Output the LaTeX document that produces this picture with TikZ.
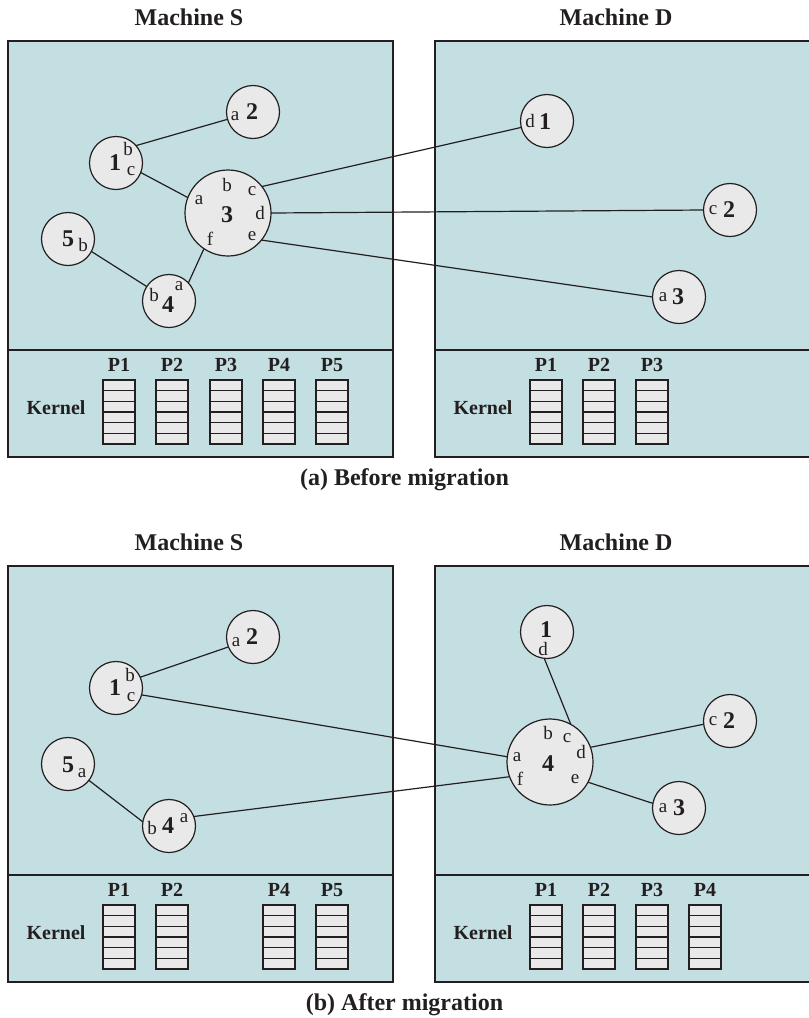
\documentclass[tikz,border=0pt]{standalone}
\usepackage{fontspec}
\setmainfont{Liberation Serif}
\definecolor{boxfill}{HTML}{C4DFE2}
\definecolor{procfill}{HTML}{E9E9E9}
\definecolor{ink}{HTML}{231F20}
\tikzset{
  machine/.style={draw=ink,line width=0.6pt,fill=boxfill},
  divider/.style={draw=ink,line width=1.1pt},
  proc/.style={circle,draw=ink,line width=0.6pt,fill=procfill,minimum size=26.5pt,inner sep=0pt,outer sep=0pt},
  bigproc/.style={proc,minimum size=43pt},
  num/.style={font=\bfseries\fontsize{12}{14}\selectfont,inner sep=0pt,text=ink},
  port/.style={font=\fontsize{9.5}{11}\selectfont,inner sep=0pt,text=ink},
  link/.style={draw=ink,line width=0.6pt},
  title/.style={font=\bfseries\fontsize{12}{14}\selectfont,inner sep=0pt,text=ink},
  plabel/.style={font=\bfseries\fontsize{10}{12}\selectfont,inner sep=0pt,text=ink},
  cell/.style={draw=ink,line width=0.65pt,fill=procfill}
}
\begin{document}
\begin{tikzpicture}[x=0.5pt,y=-0.5pt]
\useasboundingbox (0,0) rectangle (809,1018);
% (a) before migration
\draw[machine] (8,41) rectangle (393,457);
\draw[machine] (435,41) rectangle (815,457);
\draw[divider] (8,350) -- (393,350);
\draw[divider] (435,350) -- (815,350);
\node[title] (tsa) at (189,17.5) {Machine S};
\node[title] (tda) at (616,17.5) {Machine D};
\node[title] (capa) at (404.5,480) {(a) Before migration};
\node[proc] (sa1) at (116,163) {};
\node[proc] (sa2) at (253,112) {};
\node[bigproc] (sa3) at (228,213) {};
\node[proc] (sa4) at (169,301) {};
\node[proc] (sa5) at (68,239) {};
\node[proc] (da1) at (547,121) {};
\node[proc] (da2) at (730,210) {};
\node[proc] (da3) at (679,297) {};
\draw[link] (sa1.41) -- (sa2.196);
\draw[link] (sa1.339) -- (sa3.159);
\draw[link] (sa5.332) -- (sa4.147);
\draw[link] (sa4.43) -- (sa3.236);
\draw[link] (sa3.38) -- (da1.194);
\draw[link] (sa3.0) -- (da2.180);
\draw[link] (sa3.321) -- (da3.180);
\node[port] (sa2a) at (235,116) {a};
\node[num] (sa2n) at (252,112) {2};
\node[num] (sa1n) at (115,163) {1};
\node[port] (sa1b) at (128,149) {b};
\node[port] (sa1c) at (131,171) {c};
\node[port] (sa3b) at (227,185) {b};
\node[port] (sa3c) at (252,191) {c};
\node[port] (sa3a) at (199,200) {a};
\node[num] (sa3n) at (227,215) {3};
\node[port] (sa3d) at (260,213) {d};
\node[port] (sa3f) at (210,239) {f};
\node[port] (sa3e) at (252,236) {e};
\node[num] (sa5n) at (68,239) {5};
\node[port] (sa5b) at (83,245) {b};
\node[port] (sa4b) at (154,295) {b};
\node[port] (sa4a) at (179,286) {a};
\node[num] (sa4n) at (168,305) {4};
\node[port] (da1d) at (530,121) {d};
\node[num] (da1n) at (545,122) {1};
\node[port] (da2c) at (713,210) {c};
\node[num] (da2n) at (729,210) {2};
\node[port] (da3a) at (663,297) {a};
\node[num] (da3n) at (678,297) {3};
\node[plabel] (ska) at (56,408) {Kernel};
\node[plabel] (dka) at (483,408) {Kernel};
\foreach \x/\p in {119/1,172/2,226/3,279/4,332/5}{
  \node[plabel] (sap\p) at (\x,365) {P\p};
  \foreach \k in {0,...,5}
    \draw[cell] (\x-16,380+\k*10.67) rectangle ++(32,10.67);
}
\foreach \x/\p in {546/1,599/2,652/3}{
  \node[plabel] (dap\p) at (\x,365) {P\p};
  \foreach \k in {0,...,5}
    \draw[cell] (\x-16,380+\k*10.67) rectangle ++(32,10.67);
}
% (b) after migration
\draw[machine] (8,566) rectangle (393,982);
\draw[machine] (435,566) rectangle (815,982);
\draw[divider] (8,875) -- (393,875);
\draw[divider] (435,875) -- (815,875);
\node[title] (tsb) at (189,542.5) {Machine S};
\node[title] (tdb) at (616,542.5) {Machine D};
\node[title] (capb) at (404.5,1005) {(b) After migration};
\node[proc] (sb1) at (116,688) {};
\node[proc] (sb2) at (253,637) {};
\node[proc] (sb4) at (169,826) {};
\node[proc] (sb5) at (68,764) {};
\node[proc] (db1) at (547,632) {};
\node[proc] (db2) at (730,721) {};
\node[proc] (db3) at (679,808) {};
\node[bigproc] (db4) at (550,762) {};
\draw[link] (sb1.24) -- (sb2.202);
\draw[link] (sb1.345) -- (db4.173);
\draw[link] (sb5.322) -- (sb4.171);
\draw[link] (sb4.21) -- (db4.200);
\draw[link] (db1.264) -- (db4.61);
\draw[link] (db4.20) -- (db2.187);
\draw[link] (db4.332) -- (db3.170);
\node[port] (sb2a) at (236,642) {a};
\node[num] (sb2n) at (252,637) {2};
\node[num] (sb1n) at (115,688) {1};
\node[port] (sb1b) at (130,675) {b};
\node[port] (sb1c) at (131,697) {c};
\node[num] (sb5n) at (68,765) {5};
\node[port] (sb5a) at (82,773) {a};
\node[port] (sb4b) at (152,828) {b};
\node[num] (sb4n) at (168,826) {4};
\node[port] (sb4a) at (184,818) {a};
\node[num] (db1n) at (546,630) {1};
\node[port] (db1d) at (543,649) {d};
\node[port] (db4b) at (548,733) {b};
\node[port] (db4c) at (567,738) {c};
\node[port] (db4d) at (581,752) {d};
\node[port] (db4a) at (517,757) {a};
\node[num] (db4n) at (548,764) {4};
\node[port] (db4f) at (520,779) {f};
\node[port] (db4e) at (575,779) {e};
\node[port] (db2c) at (713,721) {c};
\node[num] (db2n) at (729,721) {2};
\node[port] (db3a) at (663,808) {a};
\node[num] (db3n) at (679,808) {3};
\node[plabel] (skb) at (56,933) {Kernel};
\node[plabel] (dkb) at (483,933) {Kernel};
\foreach \x/\p in {119/1,172/2,279/4,332/5}{
  \node[plabel] (sbp\p) at (\x,890) {P\p};
  \foreach \k in {0,...,5}
    \draw[cell] (\x-16,905+\k*10.67) rectangle ++(32,10.67);
}
\foreach \x/\p in {546/1,599/2,652/3,705/4}{
  \node[plabel] (dbp\p) at (\x,890) {P\p};
  \foreach \k in {0,...,5}
    \draw[cell] (\x-16,905+\k*10.67) rectangle ++(32,10.67);
}
\end{tikzpicture}
\end{document}
